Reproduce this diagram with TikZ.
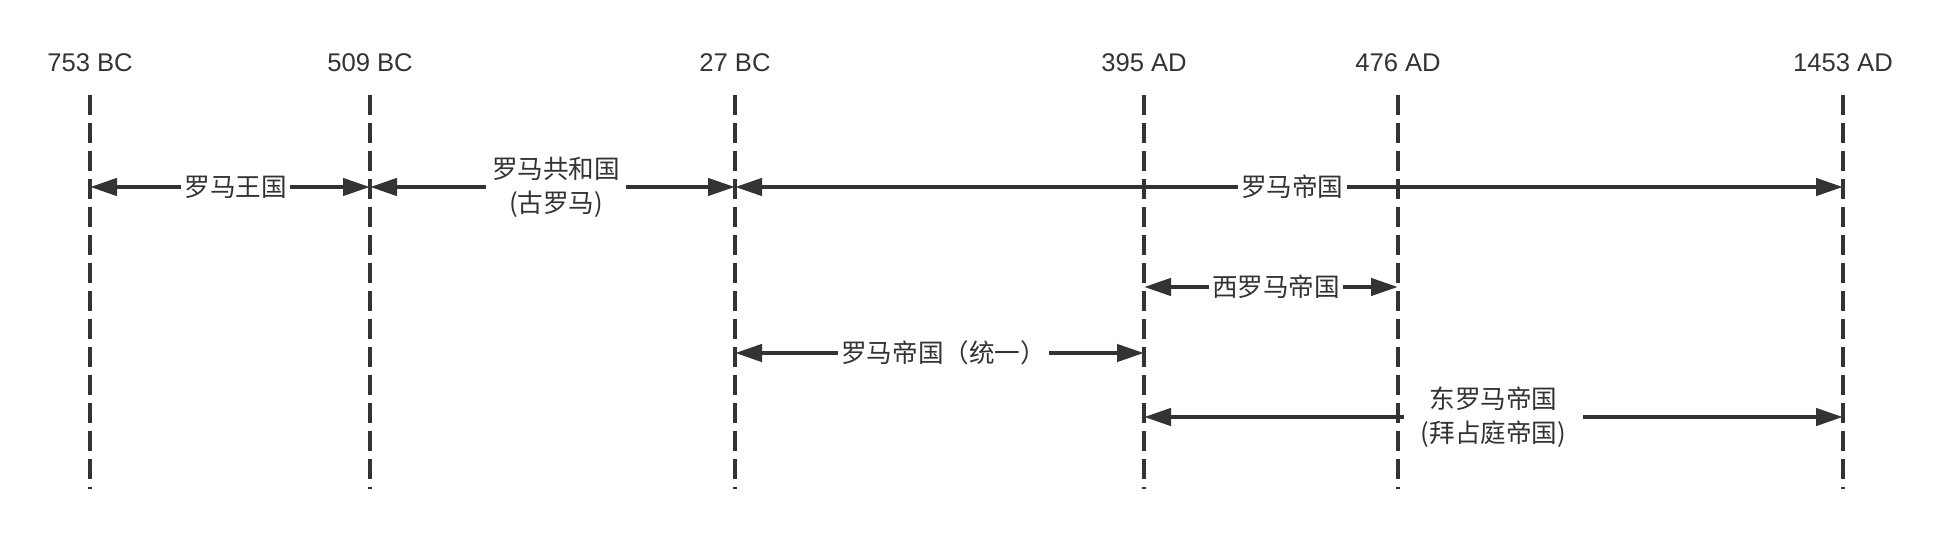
\documentclass[tikz,border=0pt]{standalone}
\usepackage{fontspec}
\usepackage{tikz}
\usetikzlibrary{arrows.meta,calc}
\setmainfont{Liberation Sans}
\newfontfamily\cjk{Noto Sans CJK SC}
\definecolor{ink}{HTML}{333333}

\begin{document}
\begin{tikzpicture}[x=0.5pt,y=-0.5pt,
  yr/.style={text=ink,font=\fontsize{12.8}{15}\selectfont},
  era/.style={fill=white,inner xsep=1.5pt,inner ysep=2pt,align=center,text=ink,font=\cjk\fontsize{12.8}{17}\selectfont},
  vline/.style={ink,line width=2.2pt,dash pattern=on 10pt off 4pt},
  span/.style={{Triangle[length=13.5pt,width=8.5pt]}-{Triangle[length=13.5pt,width=8.5pt]},ink,line width=2.2pt}]
\useasboundingbox (0,0) rectangle (1946,540);
% years and dashed markers
\foreach \n/\x/\t in {bc753/90/753 BC, bc509/370/509 BC, bc27/735/27 BC, ad395/1144/395 AD, ad476/1398/476 AD, ad1453/1843/1453 AD}{
  \node[yr] (yr-\n) at (\x,63) {\t};
  \coordinate (top-\n) at (\x,95);
  \coordinate (bot-\n) at (\x,489);
  \draw[vline] (top-\n) -- (bot-\n);
}
% rows
\coordinate (r1) at (0,187); \coordinate (r2) at (0,287);
\coordinate (r3) at (0,353); \coordinate (r4) at (0,417);
\draw[span] (top-bc753 |- r1) -- (top-bc509 |- r1) node[era,pos=0.52] {罗马王国};
\draw[span] (top-bc509 |- r1) -- (top-bc27 |- r1) node[era,pos=0.51,inner xsep=3pt] {罗马共和国\\(古罗马)};
\draw[span] (top-bc27 |- r1) -- (top-ad1453 |- r1) node[era,pos=0.503] {罗马帝国};
\draw[span] (top-ad395 |- r2) -- (top-ad476 |- r2) node[era,pos=0.52] {西罗马帝国};
\draw[span] (top-bc27 |- r3) -- (top-ad395 |- r3) node[era,pos=0.51] {罗马帝国（统一）};
\draw[span] (top-ad395 |- r4) -- (top-ad1453 |- r4) node[era,midway,inner xsep=8.5pt,inner ysep=7pt] {东罗马帝国\\(拜占庭帝国)};
\end{tikzpicture}
\end{document}
